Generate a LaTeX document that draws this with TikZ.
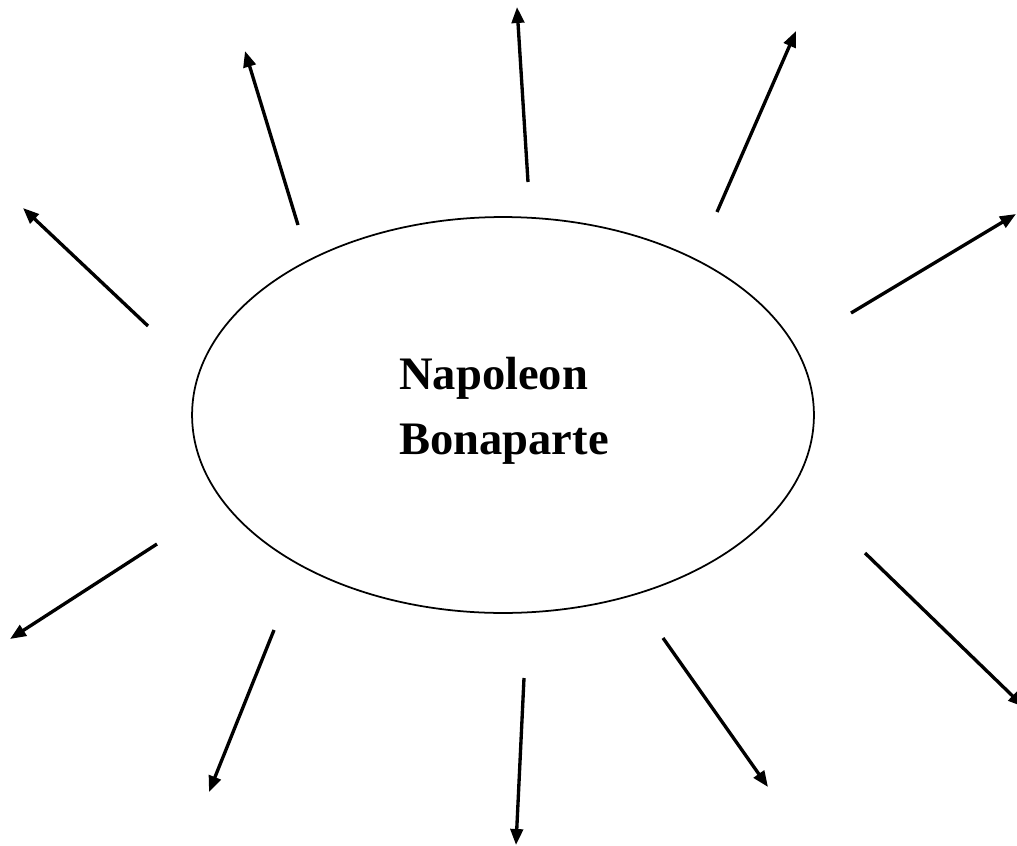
\documentclass[tikz,border=0pt]{standalone}
\usepackage{fontspec}
\setmainfont{Liberation Serif}
\usetikzlibrary{arrows.meta,shapes.geometric}

\tikzset{
  ray/.style={line width=1.9pt,-{Triangle[length=0.32cm,width=0.25cm]}},
  oval/.style={ellipse,draw,line width=1pt,minimum width=12.44cm,minimum height=7.92cm},
  title/.style={align=left,font=\fontsize{26.5}{37}\selectfont\bfseries}
}

\begin{document}
\begin{tikzpicture}[x=0.02cm,y=-0.02cm]
      \useasboundingbox (0,0) rectangle (1017,845);

      \node[oval] (nb) at (503,415) {};
      \node[title] (name) at (504,411) {Napoleon\\Bonaparte};

      % starts
      \coordinate (s1) at (528,182);
      \coordinate (s2) at (298,225);
      \coordinate (s3) at (717,212);
      \coordinate (s4) at (148,326);
      \coordinate (s5) at (851,313);
      \coordinate (s6) at (157,544);
      \coordinate (s7) at (274,630);
      \coordinate (s8) at (524,678);
      \coordinate (s9) at (663,638);
      \coordinate (s10) at (865,553);
      % ends
      \coordinate (e1) at (517,7);
      \coordinate (e2) at (245,51);
      \coordinate (e3) at (796,31);
      \coordinate (e4) at (23,208);
      \coordinate (e5) at (1016,214);
      \coordinate (e6) at (10,639);
      \coordinate (e7) at (209,792);
      \coordinate (e8) at (516,845);
      \coordinate (e9) at (768,787);
      \coordinate (e10) at (1024,707);

      \foreach \i in {1,...,10}
        \draw[ray] (s\i) -- (e\i);
    \end{tikzpicture}
\end{document}
